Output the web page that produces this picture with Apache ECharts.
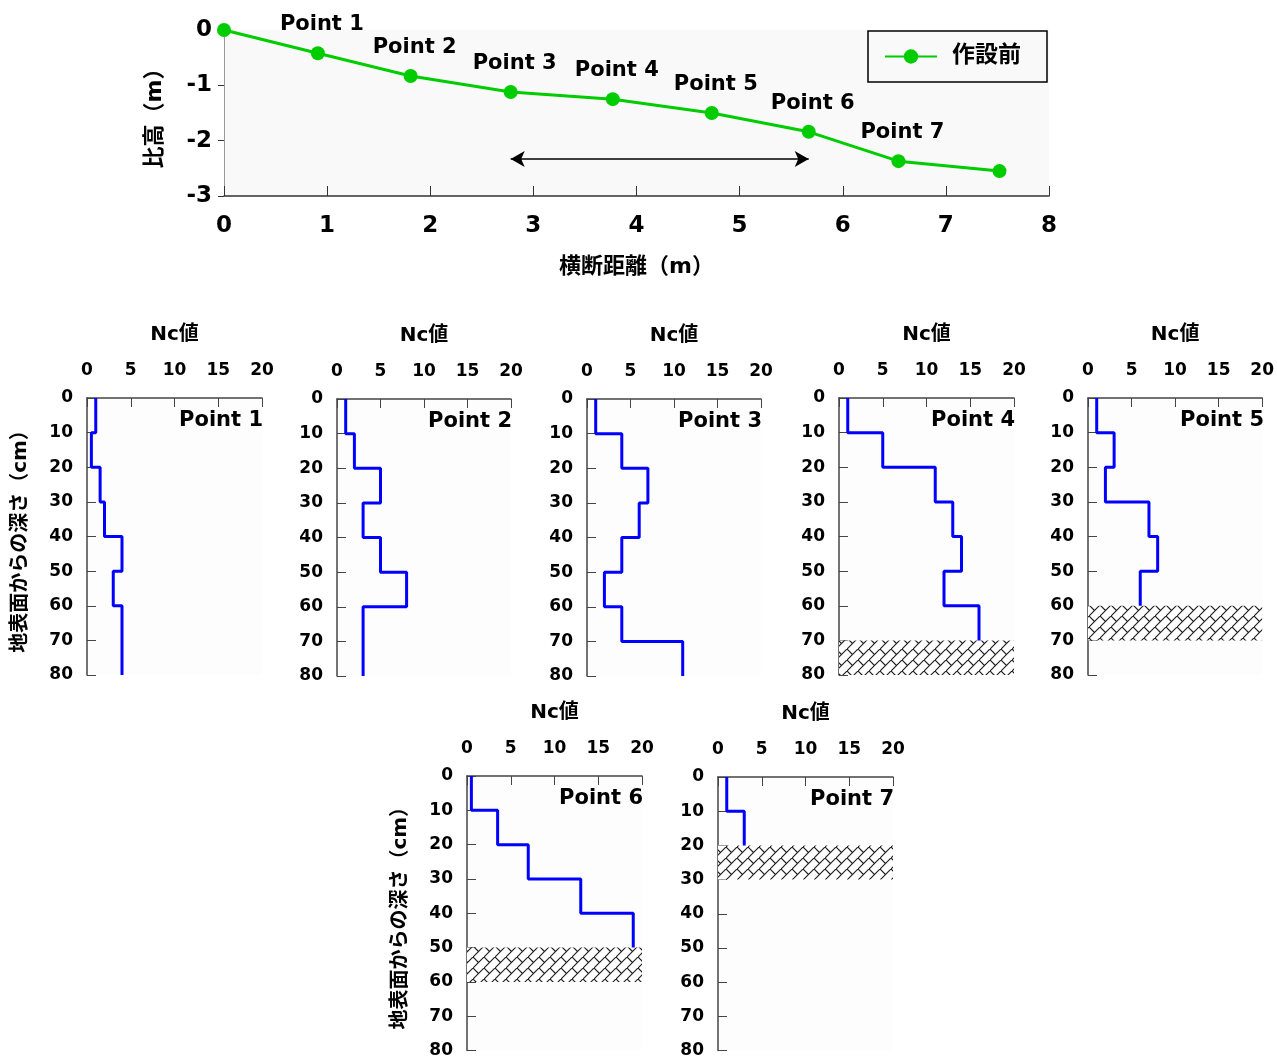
<!DOCTYPE html>
<html>
<head>
<meta charset="utf-8">
<script src="https://cdn.jsdelivr.net/npm/echarts@6/dist/echarts.min.js"></script>
<style>
  html, body { margin: 0; padding: 0; background: #fff; }
  #main { width: 1277px; height: 1059px; }
</style>
</head>
<body>
<div id="main"></div>
<script>
// --- cross section (top chart)
var pointNames = ['', 'Point 1', 'Point 2', 'Point 3', 'Point 4', 'Point 5', 'Point 6', 'Point 7', ''];
var distance = [0, 0.91, 1.81, 2.78, 3.77, 4.73, 5.67, 6.54, 7.52];
var elevation = [0, -0.42, -0.83, -1.12, -1.25, -1.50, -1.84, -2.37, -2.55];
var arrowFrom = [2.78, -2.33];
var arrowTo = [5.67, -2.33];

// --- Nc values per 10 cm layer, from the surface down
var ncPoint1 = [1, 0.5, 1.5, 2, 4, 3, 4, 4];
var ncPoint2 = [1, 2, 5, 3, 5, 8, 3, 3];
var ncPoint3 = [1, 4, 7, 6, 4, 2, 4, 11];
var ncPoint4 = [1, 5, 11, 13, 14, 12, 16];
var ncPoint5 = [1, 3, 2, 7, 8, 6];
var ncPoint6 = [0.5, 3.5, 7, 13, 19];
var ncPoint7 = [1, 3];
var ncProfiles = [ncPoint1, ncPoint2, ncPoint3, ncPoint4, ncPoint5, ncPoint6, ncPoint7];
// hard layer (hatched) depth range, cm
var hardLayers = [null, null, null, [70, 80], [60, 70], [50, 60], [20, 30]];
var depthTicks = [0, 80, 10];
var ncTicks = [0, 20, 5];

var FONT = "'DejaVu Sans', 'Noto Sans CJK JP', sans-serif";

// panel placement
var panels = [
  { left: 87,   top: 398, width: 175, height: 277, yName: true },
  { left: 337,  top: 399, width: 174, height: 277 },
  { left: 587,  top: 399, width: 174, height: 277 },
  { left: 839,  top: 398, width: 175, height: 277 },
  { left: 1088, top: 398, width: 175, height: 277 },
  { left: 467,  top: 776, width: 175, height: 276, yName: true },
  { left: 718,  top: 777, width: 175, height: 276 }
];

// diagonal brick hatch
var T = 11;
var hatch = document.createElement('canvas');
hatch.width = T; hatch.height = T;
var hc = hatch.getContext('2d');
hc.fillStyle = '#fff';
hc.fillRect(0, 0, T, T);
hc.strokeStyle = '#222';
hc.lineWidth = 1.2;
hc.beginPath();
hc.moveTo(-1, T + 1); hc.lineTo(T + 1, -1);
hc.moveTo(0, 0); hc.lineTo(T / 2, T / 2);
hc.stroke();

function stepData(vals) {
  var d = [];
  vals.forEach(function (v, i) {
    d.push([v, i * 10]);
    d.push([v, (i + 1) * 10]);
  });
  return d;
}

var grids = [{ left: 224, top: 30, width: 825, height: 166, show: true, backgroundColor: '#f9f9f9', borderWidth: 0 }];
var xAxes = [{
  gridIndex: 0, type: 'value', min: 0, max: 8, interval: 1,
  name: '横断距離（m）', nameLocation: 'middle', nameGap: 60,
  nameTextStyle: { fontFamily: FONT, fontWeight: 'bold', fontSize: 22, color: '#000' },
  axisLine: { onZero: false, lineStyle: { color: '#333', width: 1.5 } },
  axisTick: { inside: true, length: 10, lineStyle: { color: '#333' } },
  axisLabel: { margin: 19, fontFamily: FONT, fontWeight: 'bold', fontSize: 23, color: '#000' },
  splitLine: { show: false }
}];
var yAxes = [{
  gridIndex: 0, type: 'value', min: -3, max: 0, interval: 1,
  name: '比高（m）', nameLocation: 'middle', nameGap: 58, nameRotate: 90,
  nameTextStyle: { fontFamily: FONT, fontWeight: 'bold', fontSize: 22, color: '#000' },
  axisLine: { show: true, lineStyle: { color: '#999', width: 1 } },
  axisTick: { show: true, length: 6, lineStyle: { color: '#333' } },
  axisLabel: { margin: 12, fontFamily: FONT, fontWeight: 'bold', fontSize: 23, color: '#000' },
  splitLine: { show: false }
}];
var series = [{
  name: '作設前', type: 'line', xAxisIndex: 0, yAxisIndex: 0,
  data: distance.map(function (x, i) { return [x, elevation[i]]; }),
  symbol: 'circle', symbolSize: 14,
  lineStyle: { color: '#00cc00', width: 3 },
  itemStyle: { color: '#00cc00' },
  label: {
    show: true, position: 'top', distance: 11, offset: [4, 0],
    fontFamily: FONT, fontWeight: 'bold', fontSize: 21, color: '#000',
    formatter: function (p) { return pointNames[p.dataIndex]; }
  },
  markLine: {
    silent: true, symbol: ['arrow', 'arrow'], symbolSize: [12, 14],
    label: { show: false },
    lineStyle: { color: '#000', width: 1.5, type: 'solid' },
    data: [[{ coord: arrowFrom }, { coord: arrowTo }]]
  }
}];
var titles = [];

panels.forEach(function (p, k) {
  var gi = k + 1;
  grids.push({ left: p.left, top: p.top, width: p.width, height: p.height, show: true, backgroundColor: '#fdfdfd', borderWidth: 0 });
  xAxes.push({
    gridIndex: gi, type: 'value', position: 'top', min: ncTicks[0], max: ncTicks[1], interval: ncTicks[2],
    name: 'Nc値', nameLocation: 'middle', nameGap: 53,
    nameTextStyle: { fontFamily: FONT, fontWeight: 'bold', fontSize: 20, color: '#000' },
    axisLine: { lineStyle: { color: '#444', width: 1.5 } },
    axisTick: { inside: true, length: 9, lineStyle: { color: '#444' } },
    axisLabel: { margin: 19, fontFamily: FONT, fontWeight: 'bold', fontSize: 17, color: '#000' },
    splitLine: { show: false }
  });
  yAxes.push({
    gridIndex: gi, type: 'value', inverse: true, min: depthTicks[0], max: depthTicks[1], interval: depthTicks[2],
    name: p.yName ? '地表面からの深さ（cm）' : '', nameLocation: 'middle', nameGap: 56, nameRotate: 90,
    nameTextStyle: { fontFamily: FONT, fontWeight: 'bold', fontSize: 20, color: '#000' },
    axisLine: { show: true, lineStyle: { color: '#444', width: 1.5 } },
    axisTick: { show: true, inside: true, length: 9, lineStyle: { color: '#444' } },
    axisLabel: { margin: 14, fontFamily: FONT, fontWeight: 'bold', fontSize: 17, color: '#000' },
    splitLine: { show: false }
  });
  var s = {
    type: 'line', xAxisIndex: gi, yAxisIndex: gi,
    data: stepData(ncProfiles[k]),
    symbol: 'none', silent: true,
    lineStyle: { color: '#0000ff', width: 3 }
  };
  if (hardLayers[k]) {
    s.markArea = {
      silent: true,
      itemStyle: { color: { image: hatch, repeat: 'repeat' }, borderWidth: 0 },
      data: [[{ coord: [ncTicks[0], hardLayers[k][0]] }, { coord: [ncTicks[1], hardLayers[k][1]] }]]
    };
  }
  series.push(s);
  titles.push({
    text: 'Point ' + (k + 1),
    right: 1277 - (p.left + p.width) - 1, top: p.top + 12, padding: 0,
    textStyle: { fontFamily: FONT, fontWeight: 'bold', fontSize: 21, color: '#000' }
  });
});

var myChart = echarts.init(document.getElementById('main'));
var option = {
  animation: false,
  title: titles,
  legend: {
    data: ['作設前'], left: 868, top: 31,
    padding: [14, 26, 14, 16], borderColor: '#000', borderWidth: 1.5,
    itemWidth: 52, itemHeight: 18,
    textStyle: { fontFamily: FONT, fontWeight: 'bold', fontSize: 23, color: '#000', padding: [0, 0, 0, 10] }
  },
  grid: grids,
  xAxis: xAxes,
  yAxis: yAxes,
  series: series
};
myChart.setOption(option);
</script>
</body>
</html>
